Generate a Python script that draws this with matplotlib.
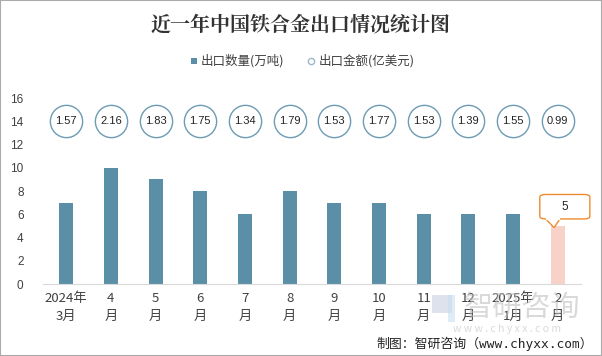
import matplotlib
matplotlib.use('Agg')
from matplotlib import pyplot as plt
from matplotlib.patches import Rectangle, FancyBboxPatch, Polygon
import numpy as np

plt.rcParams['font.family'] = ['Noto Sans CJK SC', 'DejaVu Sans']

months = ['2024年\n3月', '4\n月', '5\n月', '6\n月', '7\n月', '8\n月',
          '9\n月', '10\n月', '11\n月', '12\n月', '2025年\n1月', '2\n月']
qty = [7, 10, 9, 8, 6, 8, 7, 7, 6, 6, 6, 5]          # 出口数量(万吨)
amount = [1.57, 2.16, 1.83, 1.75, 1.34, 1.79,
          1.53, 1.77, 1.53, 1.39, 1.55, 0.99]          # 出口金额(亿美元)

bar_color = '#5B8FA8'
last_color = '#F8D2C9'
circ_color = '#6C9BB2'
txt = '#404040'
orange = '#ED8B2E'

fig = plt.figure(figsize=(6.02, 3.56), dpi=100)
ax = fig.add_axes([0.0714, 0.2022, 0.8936, 0.5225])

x = np.arange(len(qty))
colors = [bar_color] * (len(qty) - 1) + [last_color]
ax.bar(x, qty, width=0.31, color=colors, zorder=2)

# amount circles on a row near the top
row_y = 14.0
ax.scatter(x, [row_y] * len(x), s=540, facecolor='white', edgecolor=circ_color,
           linewidth=1.0, zorder=3)
for xi, v in zip(x, amount):
    ax.text(xi, row_y, f'{v:.2f}', ha='center', va='center', fontsize=8,
            color='#222222', family='Liberation Sans', zorder=4)

# callout for last bar
lx, lv = x[-1], qty[-1]
bx, by, bw, bh = lx + 0.16, lv + 1.65, 1.12, 2.1
box = FancyBboxPatch((bx - bw / 2, by - bh / 2), bw, bh,
                     boxstyle='round,pad=0,rounding_size=0.12', mutation_aspect=1.9,
                     fc='white', ec=orange, lw=1.0, zorder=5, clip_on=False)
ax.add_patch(box)
notch = Polygon([[lx - 0.27, by - bh / 2], [lx - 0.08, lv - 0.15], [lx + 0.05, by - bh / 2]],
                closed=False, fc='white', ec=orange, lw=1.0, zorder=6, clip_on=False)
ax.add_patch(notch)
ax.plot([lx - 0.25, lx + 0.03], [by - bh / 2] * 2, color='white', lw=1.6, zorder=6,
        clip_on=False)
ax.text(bx, by, str(lv), ha='center', va='center', fontsize=8.5, color='#222222',
        family='Liberation Sans', zorder=7)

ax.set_xlim(-0.52, len(x) - 0.48)
ax.set_ylim(0, 16)
ax.set_yticks(range(0, 17, 2))
ax.set_xticks(x)
ax.set_xticklabels(months, fontsize=9.5, color=txt, linespacing=1.5)
ax.tick_params(axis='y', labelsize=8.5, labelcolor=txt, length=0, pad=14)
ax.tick_params(axis='x', length=0, pad=6)
for lab in ax.get_yticklabels():
    lab.set_family('Liberation Sans')
for s in ['top', 'right', 'left']:
    ax.spines[s].set_visible(False)
ax.spines['bottom'].set_color('#D9D9D9')

fig.text(0.5, 0.93, '近一年中国铁合金出口情况统计图', ha='center', va='center',
         fontsize=14.4, fontweight='bold', color='#333333', family='Noto Serif CJK SC')

# legend
fig.patches.append(Rectangle((0.3175, 0.819), 0.0105, 0.019, transform=fig.transFigure,
                             facecolor=bar_color, edgecolor='none'))
fig.text(0.333, 0.828, '出口数量(万吨)', ha='left', va='center', fontsize=9, color=txt)
fig.lines.append(plt.Line2D([0.517], [0.828], transform=fig.transFigure, marker='o',
                            markersize=4.5, markerfacecolor='white',
                            markeredgecolor='#9BB8C8', linestyle='none'))
fig.text(0.529, 0.828, '出口金额(亿美元)', ha='left', va='center', fontsize=9, color=txt)

# watermark
fig.patches.append(Rectangle((0.718, 0.12), 0.032, 0.05, transform=fig.transFigure,
                             facecolor='#C9CFE0', edgecolor='none', alpha=0.6))
fig.patches.append(Rectangle((0.744, 0.096), 0.012, 0.076, transform=fig.transFigure,
                             facecolor='#C8E0F0', edgecolor='none', alpha=0.6))
fig.text(0.867, 0.135, '智研咨询', ha='center', va='center', fontsize=21,
         color='#BBBBBB', alpha=0.55)
fig.text(0.842, 0.076, 'w w w . c h y x x . c o m', ha='center', va='center',
         fontsize=7.5, color='#BBBBBB', alpha=0.55)

fig.text(0.985, 0.035, '制图：智研咨询（www.chyxx.com）', ha='right', va='center',
         fontsize=9.3, color='#222222', family=['DejaVu Sans Mono', 'Noto Sans CJK SC'])

fig.patches.append(Rectangle((0, 0), 1, 1, transform=fig.transFigure, fill=False,
                             edgecolor='#AAAAAA', linewidth=1.5))

fig.savefig('out.png', dpi=100)
